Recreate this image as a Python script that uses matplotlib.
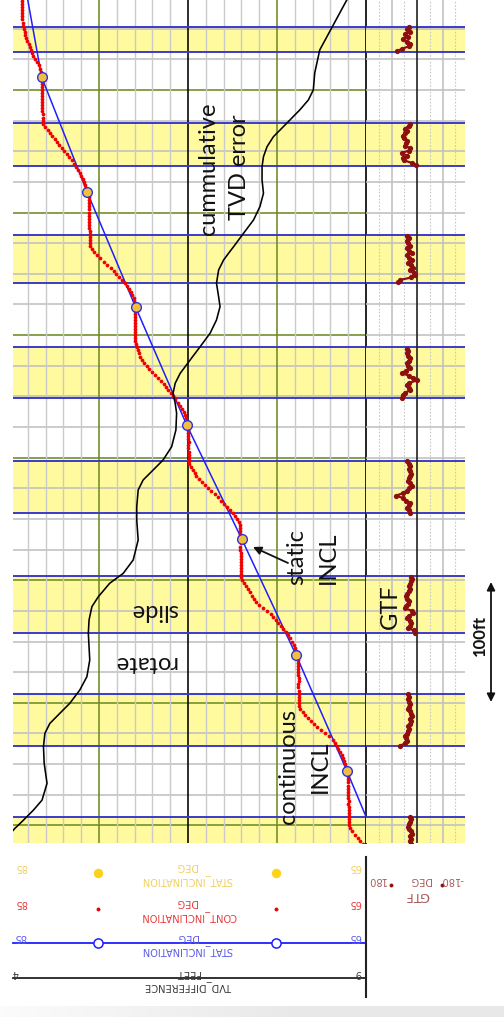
import numpy as np
import matplotlib
matplotlib.use("Agg")
import matplotlib.pyplot as plt

# ---------------------------------------------------------------- data
# continuous inclination (deg), sampled every 2.5 ft going shallower from 5675 ft
cont_top_md = 5675.0
cont_step = 2.5
cont_incl = [
    84.34, 84.34, 84.33, 84.33, 84.32, 84.31, 84.31, 84.30, 84.28, 84.26,
    84.22, 84.18, 84.13, 84.08, 84.03, 83.96, 83.90, 83.83, 83.77, 83.70,
    83.60, 83.48, 83.37, 83.29, 83.26, 83.22, 83.19, 83.19, 83.19, 83.19,
    83.19, 83.18, 83.18, 83.19, 83.18, 83.18, 83.18, 83.18, 83.17, 83.17,
    83.17, 83.14, 83.01, 82.88, 82.75, 82.62, 82.49, 82.35, 82.22, 82.09,
    81.95, 81.82, 81.68, 81.54, 81.40, 81.27, 81.17, 81.08, 80.99, 80.91,
    80.82, 80.76, 80.71, 80.66, 80.62, 80.58, 80.55, 80.55, 80.55, 80.54,
    80.54, 80.54, 80.54, 80.54, 80.54, 80.54, 80.53, 80.53, 80.53, 80.53,
    80.53, 80.48, 80.37, 80.26, 80.14, 79.94, 79.74, 79.53, 79.34, 79.18,
    79.02, 78.86, 78.70, 78.54, 78.44, 78.33, 78.23, 78.13, 78.05, 78.02,
    77.98, 77.95, 77.96, 77.97, 77.98, 77.98, 77.97, 77.97, 77.96, 77.96,
    77.96, 77.95, 77.95, 77.93, 77.87, 77.82, 77.76, 77.71, 77.59, 77.46,
    77.33, 77.19, 77.03, 76.85, 76.68, 76.50, 76.34, 76.22, 76.10, 75.98,
    75.85, 75.72, 75.59, 75.45, 75.32, 75.23, 75.17, 75.12, 75.07, 75.04,
    75.01, 74.98, 74.98, 74.99, 74.98, 74.97, 74.98, 74.98, 74.97, 74.97,
    74.97, 74.97, 74.94, 74.84, 74.73, 74.63, 74.54, 74.39, 74.21, 74.04,
    73.86, 73.68, 73.50, 73.33, 73.16, 72.99, 72.82, 72.64, 72.47, 72.35,
    72.23, 72.12, 72.08, 72.07, 72.07, 72.06, 72.06, 72.05, 72.05, 72.06,
    72.06, 72.05, 72.05, 72.05, 72.04, 72.05, 72.05, 72.05, 72.05, 72.05,
    71.94, 71.83, 71.72, 71.62, 71.51, 71.40, 71.30, 71.19, 71.01, 70.78,
    70.55, 70.35, 70.21, 70.06, 69.92, 69.78, 69.64, 69.50, 69.36, 69.26,
    69.17, 69.07, 68.98, 68.95, 68.92, 68.89, 68.81, 68.80, 68.80, 68.81,
    68.80, 68.80, 68.79, 68.79, 68.80, 68.80, 68.79, 68.79, 68.79, 68.78,
    68.79, 68.79, 68.70, 68.56, 68.42, 68.27, 68.09, 67.91, 67.74, 67.55,
    67.32, 67.10, 66.87, 66.75, 66.65, 66.55, 66.45, 66.35, 66.27, 66.22,
    66.17, 66.13, 66.08, 66.04, 66.01, 66.00, 66.00, 65.99, 66.00, 65.99,
    65.99, 65.99, 65.98, 65.99, 65.98, 65.98, 65.98, 65.98, 65.98, 65.98,
    65.98, 65.92, 65.78, 65.63, 65.47, 65.31, 65.16, 65.03, 64.89,
]

# static survey stations
survey_md = [4950.5, 5044.6, 5139.0, 5233.6, 5326.6, 5422.7, 5516.5, 5610.4, 5704.7]
survey_incl = [63.37, 66.08, 68.93, 71.98, 75.07, 77.94, 80.66, 83.22, 84.39]

# cumulative TVD difference (ft)
tvd_md = [5677.5, 5673.4, 5653.0, 5632.6, 5613.9, 5600.0, 5591.8, 5583.7, 5570.1,
          5561.9, 5553.7, 5545.6, 5537.4, 5526.6, 5515.7, 5504.8, 5493.9, 5483.1,
          5472.1, 5466.8, 5461.3, 5453.1, 5442.3, 5431.3, 5423.2, 5412.3, 5401.5,
          5390.5, 5379.7, 5368.8, 5360.7, 5352.5, 5344.4, 5336.2, 5322.6, 5308.9,
          5298.1, 5289.9, 5281.8, 5273.6, 5260.0, 5249.1, 5232.8, 5216.5, 5205.6,
          5197.5, 5186.5, 5178.4, 5167.5, 5156.7, 5145.7, 5134.9, 5121.3, 5110.4,
          5099.6, 5091.4, 5083.2, 5075.1, 5064.1, 5050.6, 5034.3, 5020.6, 5012.5,
          5004.3, 4997.6, 4983.9]
tvd_diff = [8.78, 8.73, 8.54, 8.35, 8.28, 8.26, 8.19, 8.07, 7.84,
            7.70, 7.61, 7.56, 7.54, 7.54, 7.56, 7.51, 7.42, 7.28,
            7.14, 7.07, 7.00, 6.93, 6.90, 6.93, 6.95, 6.90, 6.81,
            6.67, 6.53, 6.39, 6.32, 6.29, 6.32, 6.34, 6.33, 6.27,
            6.15, 6.01, 5.87, 5.80, 5.78, 5.78, 5.80, 5.73, 5.59,
            5.40, 5.24, 5.15, 5.11, 5.10, 5.11, 5.12, 5.08, 4.98,
            4.84, 4.70, 4.56, 4.49, 4.47, 4.48, 4.52, 4.45, 4.33,
            4.19, 4.07, 3.86]

# sliding intervals (shallow, deep) in ft
slide_top = [4980.0, 5064.7, 5156.7, 5254.6, 5348.9, 5442.8, 5538.0, 5631.3]
slide_base = [5007.0, 5106.9, 5203.4, 5297.5, 5390.5, 5481.7, 5573.1, 5651.7]

# gravity tool face while sliding (deg), every 2 ft from each start depth
gtf_start = [4981.0, 5064.9, 5157.0, 5255.0, 5349.0, 5443.0, 5538.5, 5631.5]
gtf_s1 = [13, 16, 20, 25, 22, 25, 19, 22, 28, 31, 28, 25, 22, 25]
gtf_s2 = [60, 42, 36, 38, 42, 36, 31, 28, 31, 25, 22, 25, 19, 22, 25, 31, 28, 25,
          30, 31, 28, 31]
gtf_s3 = [7, 12, 31, 25, 20, 25, 36, 30, 13, 18, 42, 38, 31, 28, 36, 40, 36, 30,
          25, 28, 25, 20, 19, 22]
gtf_s4 = [25, 30, 36, 28, 25, 40, 48, 74, 50, 36, 28, 19, 24, 31, 27, 25, 22, 25,
          28, 25, 30, 36]
gtf_s5 = [54, 48, 42, 25, 30, 36, 28, 1, 13, 30, 54, 40, 25, 32, 36, 28, 25, 31,
          36, 33, 36]
gtf_s6 = [66, 60, 20, 7, 12, 25, 13, 22, 31, 19, 28, 36, 19, 30, 36, 25, 32, 36,
          30, 36]
gtf_s7 = [2, 19, 45, 50, 36, 54, 30, 25, 42, 38, 36, 45, 48, 44, 36, 42, 30, 25]
gtf_s8 = [72, 54, 30, 25, 36, 48, 31, 42, 25, 36, 30]
gtf_runs = [gtf_s1, gtf_s2, gtf_s3, gtf_s4, gtf_s5, gtf_s6, gtf_s7, gtf_s8]

# ---------------------------------------------------------------- styling
YELLOW = "#fffa9e"
GRAY = "#c0c0c0"
OLIVE = "#6f8a22"
BLUE_SEP = "#3b3bc8"
BLUE = "#1f1fff"
RED = "#f00000"
DKRED = "#8e0f0f"
W, H = 504, 1017
MD_LO, MD_HI = 4985.6, 5673.4


def box(x0, y0, x1, y1):
    return [x0 / W, 1 - y1 / H, (x1 - x0) / W, (y1 - y0) / H]


fig = plt.figure(figsize=(W / 100, H / 100), dpi=100)
fig.patch.set_facecolor("white")

ax1 = fig.add_axes(box(12.5, 0, 366, 843))
ax2 = fig.add_axes(box(366, 0, 465, 843))
for ax in (ax1, ax2):
    ax.set_ylim(MD_LO, MD_HI)
    ax.set_axis_off()
ax1.set_xlim(84.86, 65)
ax2.set_xlim(180, -169.4)

# slide bands
for top, base in zip(slide_top, slide_base):
    for ax in (ax1, ax2):
        ax.axhspan(top, base, color=YELLOW, lw=0, zorder=0)

# depth grid
for md in range(5000, 5675, 25):
    ax1.axhline(md, color=OLIVE if md % 100 == 0 else GRAY, lw=1.15, zorder=1)
    ax2.axhline(md, color=GRAY, lw=1.15, zorder=1)

# value grid, track 1
for v in range(66, 85):
    if v == 75:
        c, lw = "black", 1.15
    elif v % 10 == 0:
        c, lw = OLIVE, 1.15
    else:
        c, lw = "#cacaca", 1.0
    ax1.axvline(v, color=c, lw=lw, zorder=1)
ax1.axvline(65, color="#222222", lw=1.4, zorder=3, clip_on=False)

# value grid, GTF track
for g in (135, 45, -45, -135):
    ax2.axvline(g, color="#c8c8c8", lw=0.8, ls=(0, (1.5, 1.5)), zorder=1)
for g in (90, -90):
    ax2.axvline(g, color=GRAY, lw=1.15, zorder=1)
ax2.axvline(0, color="#222222", lw=1.2, zorder=3)

# slide boundaries
for top, base in zip(slide_top, slide_base):
    for ax in (ax1, ax2):
        ax.axhline(top, color=BLUE_SEP, lw=1.4, zorder=2)
        ax.axhline(base, color=BLUE_SEP, lw=1.4, zorder=2)

# cumulative TVD difference on its own scale
axt = ax1.twiny()
axt.set_xlim(4.035, 9.0)
axt.set_ylim(MD_LO, MD_HI)
axt.set_axis_off()
axt.plot(tvd_diff, tvd_md, color="black", lw=1.15, zorder=5,
         solid_joinstyle="round")

# static inclination line and stations
ax1.plot(survey_incl, survey_md, color=BLUE, lw=1.1, zorder=6)
ax1.plot(survey_incl, survey_md, "o", ms=6.4, mfc="#f0bf40", mec="none", zorder=8)
ax1.plot(survey_incl, survey_md, "o", ms=7.0, mfc="none", mec="#3030d8",
         mew=1.0, zorder=9)

# continuous inclination
cont_md = cont_top_md - cont_step * np.arange(len(cont_incl))
ax1.plot(cont_incl, cont_md, "o", ms=2.7, color=RED, mec="none", zorder=7)

# gravity tool face
for start, run in zip(gtf_start, gtf_runs):
    md = start + 2.0 * np.arange(len(run))
    ax2.plot(run, md, "-", color=DKRED, lw=1.6, zorder=6)
    ax2.plot(run, md, "o", ms=3.8, color=DKRED, mec="none", zorder=6)

# ---------------------------------------------------------------- header & notes
ov = fig.add_axes([0, 0, 1, 1])
ov.set_axis_off()
ov.patch.set_alpha(0)

# soft grey strip along the bottom edge
grad = np.ones((1, 256, 3))
shade = np.clip(np.linspace(0.985, 0.86, 256), 0.91, 1.0)
grad[0, :, :] = shade[:, None]
ov.imshow(grad, extent=(0, W, H, 1006.5), aspect="auto", zorder=0)
ov.set_xlim(0, W)
ov.set_ylim(H, 0)

HF = "DejaVu Sans"


def hdr(x, y, s, color, size=7.1):
    ov.text(x, y, s, rotation=180, ha="center", va="center", color=color,
            fontsize=size, family=HF)


YEL_T, RED_T, BLU_T, BLK_T, GTF_T = "#f0d060", "#e83a3a", "#5a5ae6", "#3a3a3a", "#a85a5a"
# yellow STAT_INCLINATION
hdr(186.7, 866, "DEG", YEL_T)
hdr(187.3, 880, "STAT_INCLINATION", YEL_T)
hdr(20.7, 866.7, "85", YEL_T)
hdr(355, 866.7, "65", YEL_T)
ov.plot([98, 276], [873.3, 873.3], "o", ms=6.8, color="#ffd21a", mec="none")
# red CONT_INCLINATION
hdr(186.7, 902, "DEG", RED_T)
hdr(188.3, 916, "CONT_INCLINATION", RED_T)
hdr(20.7, 902.7, "85", RED_T)
hdr(355, 902.7, "65", RED_T)
ov.plot([98, 276], [909, 909], "o", ms=2.8, color=RED, mec="none")
# blue STAT_INCLINATION
hdr(187.3, 936.7, "DEG", BLU_T)
hdr(187.3, 950.7, "STAT_INCLINATION", BLU_T)
hdr(20, 937.3, "85", BLU_T)
hdr(355, 937.3, "65", BLU_T)
ov.plot([12.5, 365.5], [943.3, 943.3], color=BLUE, lw=1.3)
ov.plot([98, 276], [943.3, 943.3], "o", ms=6.6, mfc="white", mec=BLUE, mew=1.1)
# TVD_DIFFERENCE
hdr(188.3, 972.7, "FEET", BLK_T)
hdr(188.3, 986, "TVD_DIFFERENCE", BLK_T)
hdr(15, 972.7, "4", BLK_T)
hdr(358.3, 972.7, "9", BLK_T)
ov.plot([12.5, 365.5], [978.3, 978.3], color="#222222", lw=1.3)
# GTF
hdr(376.7, 880, "180", GTF_T)
hdr(420, 880, "DEG", GTF_T)
hdr(452, 880, "-180", GTF_T)
hdr(416.7, 895, "GTF", GTF_T, 9.2)
ov.plot([390.7, 441.7], [885, 885], "o", ms=2.8, color=DKRED, mec="none")
# header separator
ov.plot([365.5, 365.5], [856.7, 996.7], color="#222222", lw=1.5)

# notes on the log
AF = "Lato"
NS = 17
ink = "#111111"
for x, y, s in [(208, 169, "cummulative"), (240, 167, "TVD error"),
                (297, 557, "static"), (328, 558, "INCL"),
                (288, 766, "continuous"), (320, 767, "INCL"),
                (390, 607, "GTF")]:
    ov.text(x, y, s, rotation=90, ha="center", va="center",
            fontsize=NS, family=AF, color=ink)
ov.text(155, 610, "slide", rotation=180, ha="center", va="center",
        fontsize=NS, family=AF, color=ink)
ov.text(145, 663, "rotate", rotation=180, ha="center", va="center",
        fontsize=NS, family=AF, color=ink)
ov.text(480, 636, "100ft", rotation=90, ha="center", va="center",
        fontsize=12, family=AF, weight="bold", color=ink)
ov.annotate("", xy=(253, 547), xytext=(288, 563),
            arrowprops=dict(arrowstyle="-|>", color=ink, lw=1.3,
                            mutation_scale=12, shrinkA=0, shrinkB=0))
ov.annotate("", xy=(491, 582), xytext=(491, 702),
            arrowprops=dict(arrowstyle="<|-|>", color=ink, lw=1.3,
                            mutation_scale=12, shrinkA=0, shrinkB=0))

fig.savefig("out.png", dpi=100, facecolor="white")
